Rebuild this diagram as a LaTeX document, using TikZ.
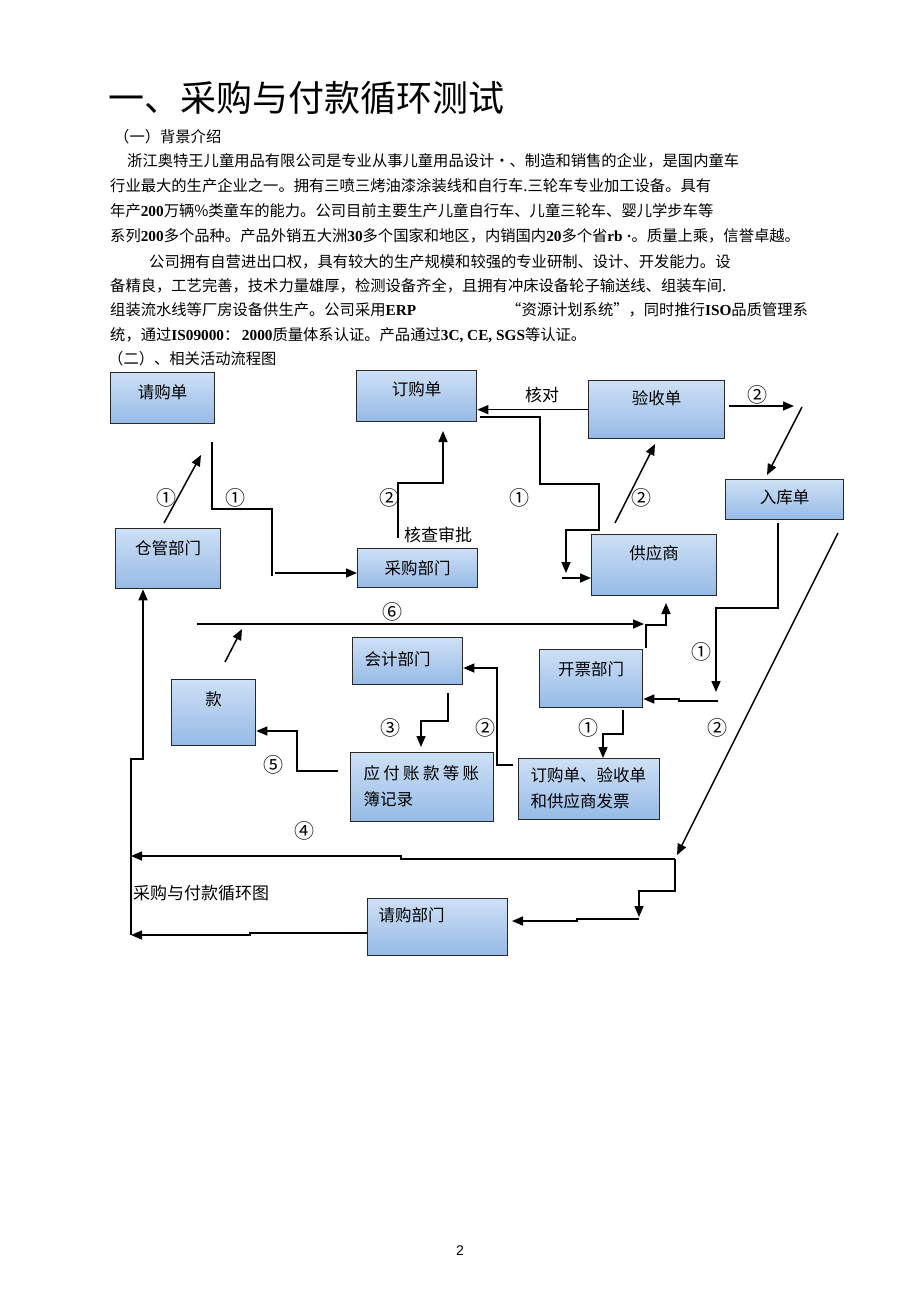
\documentclass[tikz,border=0pt]{standalone}
\usepackage{fontspec}
\usepackage{xcolor}
\usepackage{tikz}
\usetikzlibrary{arrows.meta}
\setmainfont{Noto Sans CJK SC}
\newfontfamily\tnr{Liberation Serif}
\newfontfamily\arial{Liberation Sans}
\newfontfamily\wide[LetterSpace=20]{Noto Sans CJK SC}
\newcommand\bn[1]{{\tnr\bfseries #1}}

\definecolor{boxtop}{RGB}{205,224,246}
\definecolor{boxbot}{RGB}{150,186,230}
\definecolor{boxline}{RGB}{40,40,40}

\tikzset{
  box/.style={draw=boxline, line width=1.3pt, top color=boxtop, bottom color=boxbot,
    anchor=north west, inner sep=0pt, font=\fontsize{16.5}{26}\selectfont, text depth=#1},
  box/.default=2pt,
  link/.style={line width=1.5pt, draw=black},
  arr/.style={link, -{Triangle[length=11pt,width=9pt]}},
  num/.style={inner sep=0pt, font=\fontsize{17}{17}\selectfont},
  circ/.style={inner sep=0pt, font=\fontsize{20}{20}\selectfont},
  txt/.style={anchor=base west, inner sep=0pt, font=\fontsize{15.3}{18}\selectfont}
}

\begin{document}
\begin{tikzpicture}[x=1pt,y=-1pt]
\useasboundingbox (0,0) rectangle (920,1301);

% heading and text
\node[anchor=west, inner sep=0pt, font=\fontsize{36}{40}\selectfont] (title) at (108,98) {一、采购与付款循环测试};
\node[txt] (l1) at (114,142) {（一）背景介绍};
\node[txt] (l2) at (127,166) {浙江奥特王儿童用品有限公司是专业从事儿童用品设计·、制造和销售的企业，是国内童车};
\node[txt] (l3) at (110,191) {行业最大的生产企业之一。拥有三喷三烤油漆涂装线和自行车.三轮车专业加工设备。具有};
\node[txt] (l4) at (110,216) {年产\bn{200}万辆\%类童车的能力。公司目前主要生产儿童自行车、儿童三轮车、婴儿学步车等};
\node[txt] (l5) at (110,241) {系列\bn{200}多个品种。产品外销五大洲\bn{30}多个国家和地区，内销国内\bn{20}多个省\bn{rb ·}。质量上乘，信誉卓越。};
\node[txt] (l6) at (149,267) {公司拥有自营进出口权，具有较大的生产规模和较强的专业研制、设计、开发能力。设};
\node[txt] (l7) at (110,291) {备精良，工艺完善，技术力量雄厚，检测设备齐全，且拥有冲床设备轮子输送线、组装车间.};
\node[txt] (l8) at (110,315) {组装流水线等厂房设备供生产。公司采用\bn{ERP}};
\node[txt] (l8b) at (506,315) {“资源计划系统”，同时推行\bn{ISO}品质管理系};
\node[txt] (l9) at (110,340) {统，通过\bn{IS09000}：\,\bn{2000}质量体系认证。产品通过\bn{3C, CE, SGS}等认证。};
\node[txt] (l10) at (108,364) {（二）、相关活动流程图};

% boxes
\node[box=12.5pt, minimum width=104pt, minimum height=51pt] (qinggoudan) at (110,372) {请购单};
\node[box=14.5pt, minimum width=120pt, minimum height=51pt] (dinggoudan) at (356,370) {订购单};
\node[box=21.5pt, minimum width=105pt, minimum height=60pt] (cangguan) at (115,528) {仓管部门};
\node[box, minimum width=120pt, minimum height=39pt] (caigou) at (357,548) {采购部门};
\node[box=23.5pt, minimum width=136pt, minimum height=58pt] (yanshoudan) at (588,380) {验收单};
\node[box=5.5pt, minimum width=118pt, minimum height=40pt] (rukudan) at (725,479) {入库单};
\node[box=24.5pt, minimum width=125pt, minimum height=61pt] (gongyingshang) at (591,534) {供应商};
\node[box=4.5pt, minimum width=110pt, minimum height=47pt, text width=86pt, align=left] (kuaiji) at (352,637) {会计部门};
\node[box=27.5pt, minimum width=84pt, minimum height=66pt] (kuan) at (171,679) {款};
\node[box=19.5pt, minimum width=103pt, minimum height=58pt] (kaipiao) at (539,649) {开票部门};
\node[box=30pt, minimum width=143pt, minimum height=69pt, text width=117pt, align=left] (yingfu) at (350,752) {{\wide 应付账款等账}\\簿记录};
\node[box=30pt, minimum width=141pt, minimum height=61pt, text width=117pt, align=left] (fapiao) at (518,758) {订购单、验收单\\和供应商发票};
\node[box=24.5pt, minimum width=140pt, minimum height=57pt, text width=118pt, align=left] (qinggoubm) at (367,898) {请购部门};

% free ends of the links
\coordinate (a1) at (164,523); \coordinate (a2) at (201,455);
\coordinate (b1) at (212,442); \coordinate (b2) at (272,509);
\coordinate (b3) at (272,576); \coordinate (b4) at (275,573);
\coordinate (c1) at (398,538); \coordinate (c2) at (443,483); \coordinate (c3) at (443,431);
\coordinate (d1) at (480,417); \coordinate (d2) at (540,484); \coordinate (d3) at (599,530);
\coordinate (d4) at (566,573); \coordinate (d5) at (562,578);
\coordinate (e1) at (615,523); \coordinate (e2) at (655,444);
\coordinate (f1) at (729,406); \coordinate (f2) at (794,406);
\coordinate (f3) at (802,407); \coordinate (f4) at (767,475);
\coordinate (g1) at (778,523); \coordinate (g2) at (716,608); \coordinate (g3) at (716,692);
\coordinate (g4) at (718,701); \coordinate (g5) at (679,699);
\coordinate (h1) at (838,533); \coordinate (h2) at (677,855);
\coordinate (i1) at (675,859); \coordinate (i2) at (401,859); \coordinate (i3) at (401,856);
\coordinate (i4) at (131,856); \coordinate (i5) at (639,891); \coordinate (i6) at (639,917);
\coordinate (j1) at (639,919); \coordinate (j2) at (577,921); \coordinate (j3) at (512,921);
\coordinate (k1) at (367,933); \coordinate (k2) at (250,935); \coordinate (k3) at (131,935);
\coordinate (m1) at (131,935); \coordinate (m2) at (143,759);
\coordinate (n1) at (197,624); \coordinate (n2) at (644,624);
\coordinate (n3) at (646,648); \coordinate (n4) at (666,625); \coordinate (n5) at (666,603);
\coordinate (p1) at (225,662); \coordinate (p2) at (242,629);
\coordinate (q1) at (448,693); \coordinate (q2) at (421,721); \coordinate (q3) at (421,747);
\coordinate (r1) at (338,771); \coordinate (r2) at (297,731);
\coordinate (s1) at (513,765); \coordinate (s2) at (497,668);
\coordinate (t1) at (623,710); \coordinate (t2) at (603,734);

% links
\draw[arr] (a1) -- (a2);
\draw[link] (b1) |- (b2) -- (b3);
\draw[arr] (b4) -- (b4 -| caigou.west);
\draw[arr] (c1) |- (c2) -- (c3);
\draw[arr] (yanshoudan.west) -- (yanshoudan.west -| dinggoudan.east);
\draw[arr] (d1) -| (d2) -| (d3) -| (d4);
\draw[arr] (d5) -- (d5 -| gongyingshang.west);
\draw[arr] (e1) -- (e2);
\draw[arr] (f1) -- (f2);
\draw[arr] (f3) -- (f4);
\draw[arr] (g1) |- (g2) -- (g3);
\draw[arr] (g4) -- (g4 -| g5) -- (g5) -- (g5 -| kaipiao.east);
\draw[arr] (h1) -- (h2);
\draw[arr] (i1) -- (i2) -- (i3) -- (i4);
\draw[arr] (i1) |- (i5) -- (i6);
\draw[arr] (j1) -| (j2) -- (j3);
\draw[arr] (k1) -| (k2) -- (k3);
\draw[arr] (m1) |- (m2) -- (m2 |- cangguan.south);
\draw[arr] (n1) -- (n2);
\draw[arr] (n3) |- (n4) -- (n5);
\draw[arr] (p1) -- (p2);
\draw[arr] (q1) |- (q2) -- (q3);
\draw[arr] (r1) -| (r2) -- (r2 -| kuan.east);
\draw[arr] (s1) -| (s2) -- (s2 -| kuaiji.east);
\draw[arr] (t1) |- (t2) -- (t2 |- fapiao.north);

% labels on the links
\node[num] (hedui) at (542,395) {核对};
\node[num] (hecha) at (438,535) {核查审批};
\node[circ] (n1a) at (166,498) {①};
\node[circ] (n1b) at (235,498) {①};
\node[circ] (n2a) at (389,498) {②};
\node[circ] (n1c) at (519,498) {①};
\node[circ] (n2b) at (641,498) {②};
\node[circ] (n2c) at (757,395) {②};
\node[circ] (n6) at (392,612) {⑥};
\node[circ] (n1d) at (701,652) {①};
\node[circ] (n2d) at (717,728) {②};
\node[circ] (n3a) at (390,728) {③};
\node[circ] (n2e) at (485,728) {②};
\node[circ] (n1e) at (588,728) {①};
\node[circ] (n5a) at (273,765) {⑤};
\node[circ] (n4a) at (304,831) {④};
\node[num, anchor=west] (caption) at (133,893) {采购与付款循环图};

\node[inner sep=0pt, font=\arial\fontsize{14}{14}\selectfont] (page) at (460,1251) {2};
\end{tikzpicture}
\end{document}
